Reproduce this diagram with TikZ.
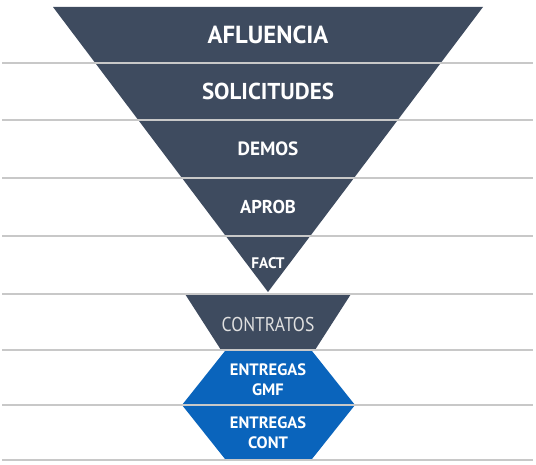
\documentclass[tikz,border=0pt]{standalone}
\usepackage{fontspec}
\setmainfont{PT Sans}
\definecolor{slate}{HTML}{3E4B5F}
\definecolor{bluefill}{HTML}{0A64BC}
\definecolor{sepline}{HTML}{C8C8C8}
\tikzset{
  lbl/.style={text=white, font=\bfseries, inner sep=0pt, align=center},
  sep/.style={draw=sepline, line width=1.3pt},
}
\begin{document}
\begin{tikzpicture}[x=1pt,y=-1pt]
\useasboundingbox (0,0) rectangle (536,465);
% funnel
\fill[slate] (53,7) -- (483,7) -- (268,292) -- cycle;
\fill[slate] (185,294) -- (351,294) -- (315,350) -- (221,350) -- cycle;
\fill[bluefill] (225,351) -- (312,351) -- (355,405) -- (312,459) -- (225,459) -- (182,405) -- cycle;
% separator lines
\foreach \yy in {63,120,178,236,294,350,405,460}
  \draw[sep] (2,\yy) -- (533,\yy);
% labels
\node[lbl, font=\bfseries\fontsize{24.7}{29}\selectfont] (afl) at (268,34.5) {AFLUENCIA};
\node[lbl, font=\bfseries\fontsize{23}{27}\selectfont] (sol) at (268,91.5) {SOLICITUDES};
\node[lbl, font=\bfseries\fontsize{19.2}{22}\selectfont] (dem) at (268,148.5) {DEMOS};
\node[lbl, font=\bfseries\fontsize{18.6}{21}\selectfont] (apr) at (268,206.5) {APROB};
\node[lbl, font=\bfseries\fontsize{15.3}{18}\selectfont] (fac) at (268,263) {FACT};
\node[lbl, text=black!12, font=\fontsize{20}{23}\selectfont] (con) at (268,324.5) {\scalebox{0.88}[1]{CONTRATOS}};
\node[lbl, font=\bfseries\fontsize{16.5}{19.5}\selectfont] (egmf) at (268,379.5) {ENTREGAS\\GMF};
\node[lbl, font=\bfseries\fontsize{16.5}{19.5}\selectfont] (econt) at (268,432.5) {ENTREGAS\\CONT};
\end{tikzpicture}
\end{document}
